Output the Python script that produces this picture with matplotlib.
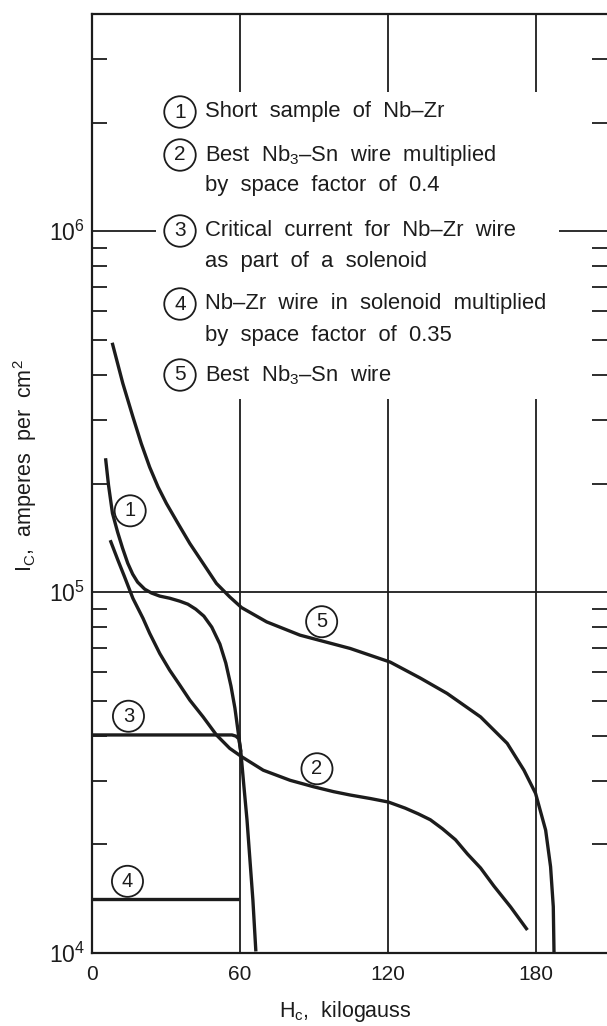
import matplotlib
matplotlib.use("Agg")
import matplotlib.pyplot as plt
from matplotlib.ticker import LogLocator, NullFormatter

plt.rcParams['font.family'] = ['Liberation Sans', 'DejaVu Sans']
plt.rcParams['mathtext.fontset'] = 'custom'
plt.rcParams['mathtext.rm'] = 'Liberation Sans'
plt.rcParams['mathtext.it'] = 'Liberation Sans:italic'

INK = '#1c1c1c'
W, H = 607, 1026

# H_c in kilogauss, I_c in amperes per cm^2
h_short_nbzr = [5.5, 6.7, 8.3, 10.4, 12.4, 14.5, 16.5, 18.5, 21.4, 24.2, 27.5, 31.5, 35.6, 38.9,
                42.1, 45.4, 48.6, 51.9, 54.3, 56.4, 58.0, 59.2, 60.4, 61.6, 62.9, 64.1, 65.3, 66.5]
i_short_nbzr = [2.35e5, 1.98e5, 1.655e5, 1.466e5, 1.324e5, 1.203e5, 1.122e5, 1.066e5, 1.019e5,
                9.94e4, 9.75e4, 9.62e4, 9.44e4, 9.26e4, 8.97e4, 8.58e4, 8.00e4, 7.18e4, 6.36e4,
                5.49e4, 4.77e4, 4.15e4, 3.61e4, 2.92e4, 2.34e4, 1.81e4, 1.40e4, 1.01e4]

h_nb3sn_04 = [7.4, 10.5, 13.2, 16.6, 20.7, 23.4, 27.5, 31.5, 35.6, 39.7, 45.1, 50.5, 55.9, 60.7,
              69.5, 80.4, 89.8, 98.0, 104.8, 112.9, 120.3, 127.1, 132.4, 137.3, 142.2, 147.5,
              152.4, 157.7, 163.1, 169.9, 176.7]
i_nb3sn_04 = [1.393e5, 1.227e5, 1.103e5, 9.61e4, 8.46e4, 7.69e4, 6.76e4, 6.08e4, 5.53e4, 5.02e4,
              4.51e4, 4.02e4, 3.69e4, 3.50e4, 3.21e4, 3.01e4, 2.89e4, 2.80e4, 2.74e4, 2.68e4,
              2.62e4, 2.52e4, 2.43e4, 2.34e4, 2.21e4, 2.06e4, 1.88e4, 1.72e4, 1.533e4, 1.341e4,
              1.158e4]

h_solenoid = [0.0, 56.8, 58.4, 59.6, 60.4]
i_solenoid = [4.02e4, 4.02e4, 3.99e4, 3.92e4, 3.61e4]

h_solenoid_035 = [0.0, 59.6]
i_solenoid_035 = [1.41e4, 1.41e4]

h_nb3sn = [8.2, 12.5, 16.6, 20.0, 23.4, 26.8, 30.2, 34.9, 39.7, 45.1, 50.5, 55.9, 60.7, 70.9,
           84.4, 104.8, 121.0, 133.2, 144.1, 157.7, 168.5, 175.3, 180.0, 184.1, 186.1, 187.2, 187.5]
i_nb3sn = [4.91e5, 3.79e5, 3.06e5, 2.58e5, 2.22e5, 1.957e5, 1.761e5, 1.550e5, 1.364e5, 1.201e5,
           1.057e5, 9.70e4, 9.06e4, 8.27e4, 7.60e4, 6.98e4, 6.40e4, 5.78e4, 5.24e4, 4.51e4,
           3.81e4, 3.21e4, 2.77e4, 2.19e4, 1.734e4, 1.344e4, 1.0e4]

# circled curve numbers sitting on the curves
tag_numbers = ['1', '2', '3', '4', '5']
tag_h = [15.5, 91.3, 14.8, 14.4, 93.2]
tag_i = [1.68e5, 3.24e4, 4.53e4, 1.58e4, 8.28e4]

key_lines = [
    ["Short  sample  of  Nb–Zr"],
    ["Best  Nb$_3$–Sn  wire  multiplied", "by  space  factor  of  0.4"],
    ["Critical  current  for  Nb–Zr  wire", "as  part  of  a  solenoid"],
    ["Nb–Zr  wire  in  solenoid  multiplied", "by  space  factor  of  0.35"],
    ["Best  Nb$_3$–Sn  wire"],
]

x_ticks = [0, 60, 120, 180]


def px(x, y):
    return x / W, 1 - y / H


fig = plt.figure(figsize=(W / 100, H / 100), dpi=100)
ax = fig.add_axes([92 / W, 73 / H, 515 / W, 939 / H])
ax.set_yscale('log')
ax.set_xlim(0, 209)
ax.set_ylim(1e4, 4e6)

for side in ['left', 'top', 'bottom']:
    ax.spines[side].set_linewidth(1.6)
    ax.spines[side].set_color(INK)
ax.spines['right'].set_visible(False)

ax.set_xticks(x_ticks)
ax.set_xticklabels([str(t) for t in x_ticks])
ax.tick_params(axis='x', length=0, pad=9, labelsize=15, colors=INK)

ax.set_yticks([1e4, 1e5, 1e6])
ax.yaxis.set_minor_locator(LogLocator(base=10, subs=range(2, 10)))
ax.yaxis.set_minor_formatter(NullFormatter())
ax.tick_params(axis='y', which='major', length=0, pad=5, labelsize=16.5, colors=INK)
ax.tick_params(axis='y', which='minor', direction='in', length=11, width=1.3,
               left=True, right=True, color=INK)

# grid, broken where the key text sits
ax.axhline(1e5, color=INK, lw=1.3, zorder=1)
ax.hlines(1e6, 0, 26, color=INK, lw=1.3, zorder=1)
ax.hlines(1e6, 189.5, 209, color=INK, lw=1.3, zorder=1)
ax.vlines(x_ticks[1:], 1e4, 3.44e5, color=INK, lw=1.3, zorder=1)
ax.vlines(x_ticks[1:], 2.43e6, 4e6, color=INK, lw=1.3, zorder=1)

curve_kw = dict(color=INK, lw=2.4, solid_joinstyle='round', solid_capstyle='butt', zorder=3)
ax.plot(h_short_nbzr, i_short_nbzr, **curve_kw)
ax.plot(h_nb3sn_04, i_nb3sn_04, **curve_kw)
ax.plot(h_solenoid, i_solenoid, **curve_kw)
ax.plot(h_solenoid_035, i_solenoid_035, **curve_kw)
ax.plot(h_nb3sn, i_nb3sn, **curve_kw)

circle_box = dict(boxstyle='circle,pad=0.3', fc='white', ec=INK, lw=1.3)
for num, h, i in zip(tag_numbers, tag_h, tag_i):
    ax.text(h, i, num, ha='center', va='center', fontsize=14.5, color=INK,
            bbox=circle_box, zorder=4)

# key in the upper part of the chart
key_y = [112, 155, 231, 304, 375]
line_step = 31
for num, y0, lines in zip(tag_numbers, key_y, key_lines):
    fig.text(*px(180, y0), num, ha='center', va='center', fontsize=15, color=INK,
             bbox=circle_box)
    for k, line in enumerate(lines):
        fig.text(*px(205, y0 + k * line_step), line, ha='left', va='center',
                 fontsize=15.8, color=INK)

fig.text(*px(25, 466), r"I$_\mathrm{C}$,  amperes  per  cm$^2$", rotation=90,
         ha='center', va='center', fontsize=15.5, color=INK)
fig.text(*px(345, 1012), r"H$_\mathrm{c}$,  kilogauss", ha='center', va='center',
         fontsize=15.5, color=INK)

fig.savefig('out.png', dpi=100)
